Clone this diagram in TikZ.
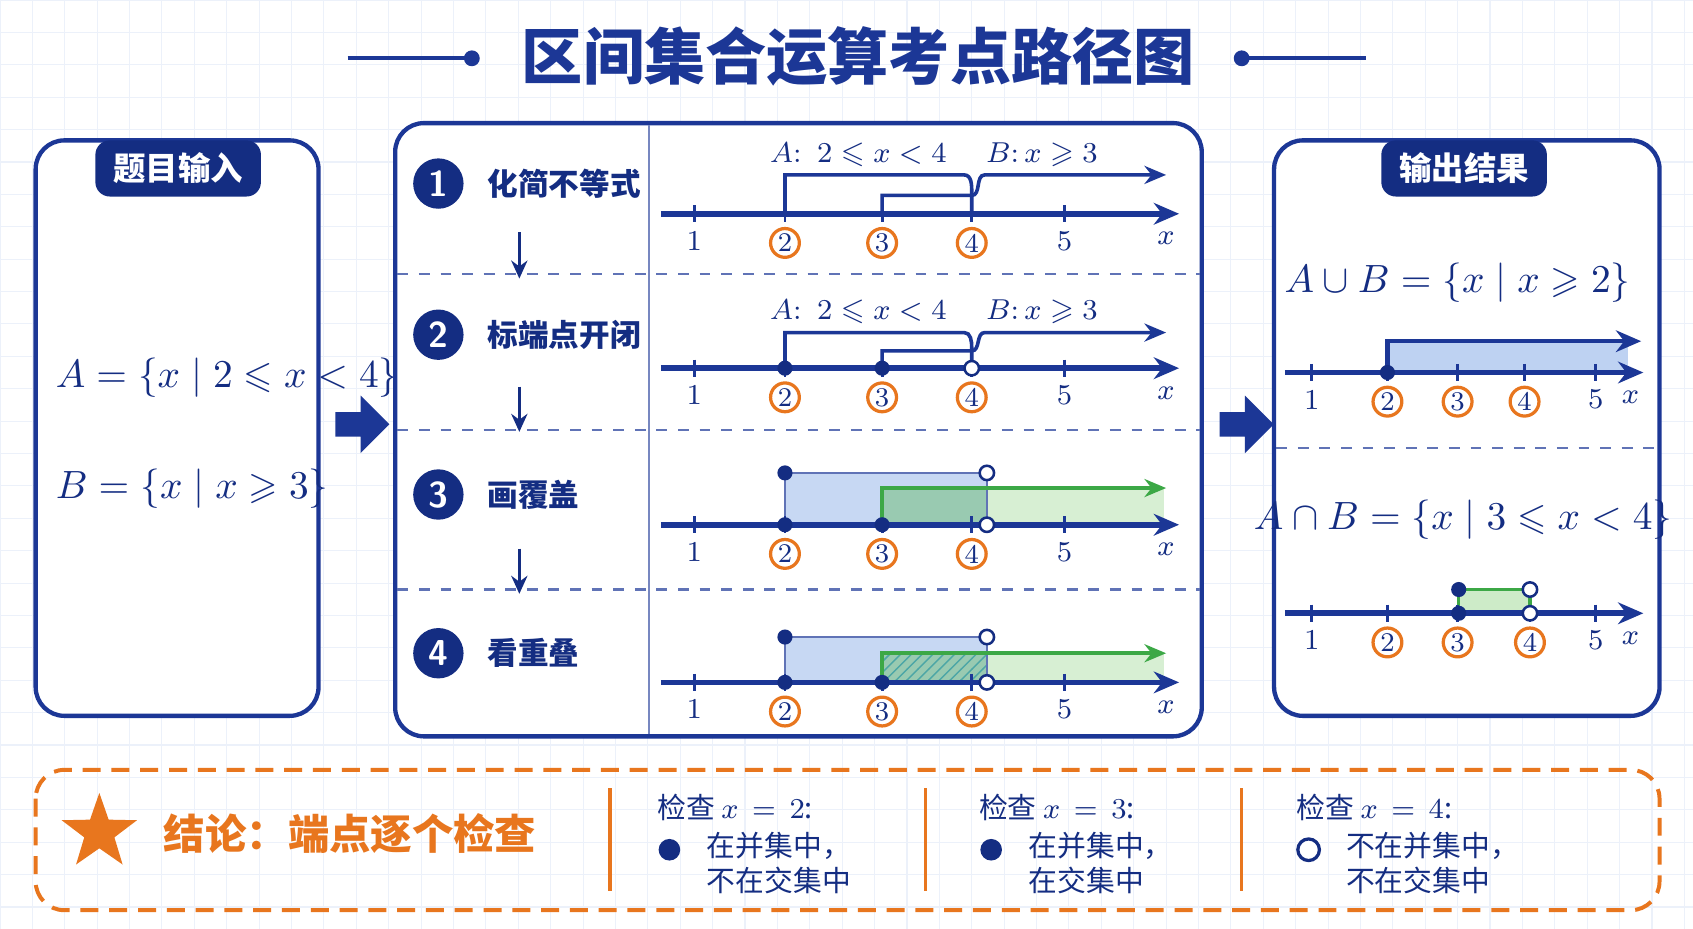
\documentclass[tikz,border=0pt]{standalone}
\usepackage{amssymb}
\usepackage{fontspec}
\newfontfamily\cjk{Noto Sans CJK SC}
\newcommand\cjkb{\cjk\bfseries}
\usetikzlibrary{arrows.meta,shapes.geometric,shapes.arrows,patterns}
\definecolor{navy}{RGB}{28,55,150}
\definecolor{dnavy}{RGB}{20,45,130}
\definecolor{org}{RGB}{232,118,30}
\definecolor{grn}{RGB}{60,168,70}
\definecolor{lblue}{RGB}{190,210,242}
\definecolor{lgrn}{RGB}{205,235,200}
\definecolor{gridc}{RGB}{236,241,250}
\newcommand\mnl[1]{%
 \draw[axis] (612,#1) -- (1092,#1);
 \foreach \p/\l in {643/1,986/5}{\draw[navy,thick] (\p,#1-8)--(\p,#1+8); \node[tk] at (\p,#1+25){\l};}
 \foreach \p/\l in {727/2,817/3,900/4}{\draw[navy,thick] (\p,#1-8)--(\p,#1+8); \node[oc] at (\p,#1+27){\l};}
 \node[tk] at (1080,#1+23){$x$};}
\newcommand\rnl[2]{%
 \draw[axis] (1190,#1) -- (1522,#1);
 \foreach \p/\l in {1215/1,1478/5}{\draw[navy,thick] (\p,#1-8)--(\p,#1+8); \node[tk] at (\p,#1+25){\l};}
 \foreach \p/\l in {1285/2,1350/3,#2/4}{\draw[navy,thick] (\p,#1-8)--(\p,#1+8); \node[oc] at (\p,#1+27){\l};}
 \node[tk] at (1510,#1+23){$x$};}
\begin{document}
\begin{tikzpicture}[x=0.3pt,y=-0.3pt,
 axis/.style={navy,line width=1.6pt,-{Stealth[length=7pt,width=6pt]}},
 tk/.style={text=dnavy,font=\fontsize{8}{9}\selectfont},
 oc/.style={circle,draw=org,line width=0.9pt,fill=white,inner sep=0pt,minimum size=8pt,text=dnavy,font=\fontsize{7.5}{8}\selectfont},
 fd/.style={circle,fill=dnavy,inner sep=0pt,minimum size=4.2pt},
 od/.style={circle,draw=dnavy,fill=white,line width=0.7pt,inner sep=0pt,minimum size=4pt},
 box/.style={draw=navy,line width=1.2pt,rounded corners=8pt,fill=white},
 tab/.style={fill=dnavy,rounded corners=4pt,text=white,font=\cjkb\fontsize{9}{10}\selectfont,inner xsep=5pt,minimum height=15.6pt},
 badge/.style={circle,fill=dnavy,text=white,inner sep=0pt,minimum size=14pt,font=\sffamily\bfseries\fontsize{10}{10}\selectfont},
 stp/.style={anchor=west,text=dnavy,font=\cjkb\fontsize{8.5}{10}\selectfont},
 lab/.style={text=dnavy,font=\fontsize{8.5}{10}\selectfont},
 brk/.style={navy,line width=1pt},
 bigar/.style={single arrow,fill=navy,draw=none,minimum height=15pt,minimum width=16pt,single arrow head extend=3pt,inner sep=2pt}]
\useasboundingbox (0,0) rectangle (1568,860);
\fill[white] (0,0) rectangle (1568,860);
\foreach \i in {0,30,...,1568}{\draw[gridc,line width=0.3pt] (\i,0)--(\i,860);}
\foreach \i in {0,30,...,860}{\draw[gridc,line width=0.3pt] (0,\i)--(1568,\i);}
% title
\node[text=navy,font=\cjkb\fontsize{17}{20}\selectfont] (title) at (795,52) {区间集合运算考点路径图};
\draw[navy,line width=1.2pt] (322,54)--(437,54); \fill[navy] (437,54) circle (2.2pt);
\draw[navy,line width=1.2pt] (1150,54)--(1265,54); \fill[navy] (1150,54) circle (2.2pt);
% left box
\draw[box] (33,130) rectangle (295,663);
\node[tab] (tin) at (165,156) {题目输入};
\node[lab,anchor=west,font=\fontsize{10.5}{12}\selectfont] (fa) at (40,350) {$A=\{x\mid 2\leqslant x<4\}$};
\node[lab,anchor=west,font=\fontsize{10.5}{12}\selectfont] (fb) at (40,453) {$B=\{x\mid x\geqslant 3\}$};
% big arrows
\node[bigar] (ar1) at (330,393) {};
\node[bigar] (ar2) at (1149,393) {};
% middle box
\draw[box] (366,114) rectangle (1113,682);
\draw[navy!60,line width=0.4pt] (601,116)--(601,680);
\foreach \yy in {254,398,546}{\draw[navy!70,dashed,line width=0.6pt] (368,\yy)--(1111,\yy);}
\node[badge] (b1) at (406,170) {1}; \node[stp] at (440,170) {化简不等式};
\node[badge] (b2) at (406,310) {2}; \node[stp] at (440,310) {标端点开闭};
\node[badge] (b3) at (406,458) {3}; \node[stp] at (440,458) {画覆盖};
\node[badge] (b4) at (406,605) {4}; \node[stp] at (440,605) {看重叠};
\foreach \a/\b in {215/258,358/400,508/550}{\draw[dnavy,line width=1pt,-{Stealth[length=5pt,width=4.5pt]}] (481,\a)--(481,\b);}
% row 1
\mnl{198}
\node[lab] at (795,143) {$A\colon\ 2\leqslant x<4$};
\node[lab] at (965,143) {$B\colon x\geqslant 3$};
\draw[brk] (727,198)--(727,162)--(893,162) to[out=0,in=90] (900,178)--(900,198);
\draw[brk,-{Stealth[length=6pt,width=5pt]}] (817,198)--(817,181)--(900,181) to[out=0,in=180] (912,162)--(1080,162);
% row 2
\mnl{341}
\node[lab] at (795,289) {$A\colon\ 2\leqslant x<4$};
\node[lab] at (965,289) {$B\colon x\geqslant 3$};
\draw[brk] (727,341)--(727,308)--(893,308) to[out=0,in=90] (900,322)--(900,341);
\draw[brk,-{Stealth[length=6pt,width=5pt]}] (817,341)--(817,325)--(900,325) to[out=0,in=180] (912,308)--(1080,308);
\node[fd] at (727,341) {}; \node[fd] at (817,341) {}; \node[od] at (900,341) {};
% row 3
\fill[lblue,opacity=0.85] (727,438) rectangle (914,486);
\fill[lgrn,opacity=0.8] (817,452) rectangle (1078,486);
\fill[grn!45!lblue,opacity=0.7] (817,452) rectangle (914,486);
\draw[navy!70,line width=0.7pt] (727,486)--(727,438)--(914,438)--(914,486);
\mnl{486}
\draw[grn,line width=1.1pt,-{Stealth[length=6pt,width=5pt]}] (817,486)--(817,452)--(1080,452);
\node[fd] at (727,438) {}; \node[od] at (914,438) {};
\node[fd] at (727,486) {}; \node[fd] at (817,486) {}; \node[od] at (914,486) {};
% row 4
\fill[lblue,opacity=0.85] (727,590) rectangle (914,632);
\fill[lgrn,opacity=0.8] (817,605) rectangle (1078,632);
\fill[grn!45!lblue,opacity=0.7] (817,605) rectangle (914,632);
\fill[pattern=north east lines,pattern color=teal!70] (817,605) rectangle (914,632);
\draw[navy!70,line width=0.7pt] (727,632)--(727,590)--(914,590)--(914,632);
\mnl{632}
\draw[grn,line width=1.1pt,-{Stealth[length=6pt,width=5pt]}] (817,632)--(817,605)--(1080,605);
\node[fd] at (727,590) {}; \node[od] at (914,590) {};
\node[fd] at (727,632) {}; \node[fd] at (817,632) {}; \node[od] at (914,632) {};
% right box
\draw[box] (1180,130) rectangle (1537,663);
\node[tab] (tout) at (1356,156) {输出结果};
\draw[navy!70,dashed,line width=0.6pt] (1182,415)--(1535,415);
\node[lab,font=\fontsize{10.5}{12}\selectfont] (fu) at (1350,262) {$A\cup B=\{x\mid x\geqslant 2\}$};
\fill[lblue] (1285,316) rectangle (1508,345);
\rnl{345}{1412}
\draw[navy,line width=1.2pt,-{Stealth[length=7pt,width=6pt]}] (1285,345)--(1285,316)--(1520,316);
\node[fd] at (1285,345) {};
\node[lab,font=\fontsize{10.5}{12}\selectfont] (fi) at (1355,481) {$A\cap B=\{x\mid 3\leqslant x<4\}$};
\fill[lgrn] (1351,546) rectangle (1417,568);
\draw[grn,line width=0.9pt] (1351,568)--(1351,546)--(1417,546)--(1417,568);
\rnl{568}{1417}
\node[fd] at (1351,546) {}; \node[od] at (1417,546) {};
\node[fd] at (1351,568) {}; \node[od] at (1417,568) {};
% bottom
\draw[org,line width=1.1pt,rounded corners=8pt,dash pattern=on 5pt off 3pt] (33,713) rectangle (1537,843);
\node[star,star points=5,star point ratio=2.5,fill=org,minimum size=22pt,inner sep=0pt] (st) at (92,771) {};
\node[anchor=west,text=org,font=\cjkb\fontsize{11.5}{13}\selectfont] (concl) at (140,772) {结论：端点逐个检查};
\foreach \xx in {565,857,1150}{\draw[org,line width=0.9pt] (\xx,730)--(\xx,825);}
\foreach \xx/\n/\dd/\la/\lb in {601/2/fd/在并集中，/不在交集中,899/3/fd/在并集中，/在交集中,1193/4/od/不在并集中，/不在交集中}{
 \node[anchor=west,text=dnavy,font=\cjk\fontsize{8}{10}\selectfont] at (\xx-4,748) {检查 $x\,=\,\n$:};
 \node[\dd,minimum size=6pt,line width=0.9pt] at (\xx+19,787) {};
 \node[anchor=west,text=dnavy,font=\cjk\fontsize{8}{10}\selectfont] at (\xx+42,783) {\la};
 \node[anchor=west,text=dnavy,font=\cjk\fontsize{8}{10}\selectfont] at (\xx+42,815) {\lb};}
\end{tikzpicture}
\end{document}
